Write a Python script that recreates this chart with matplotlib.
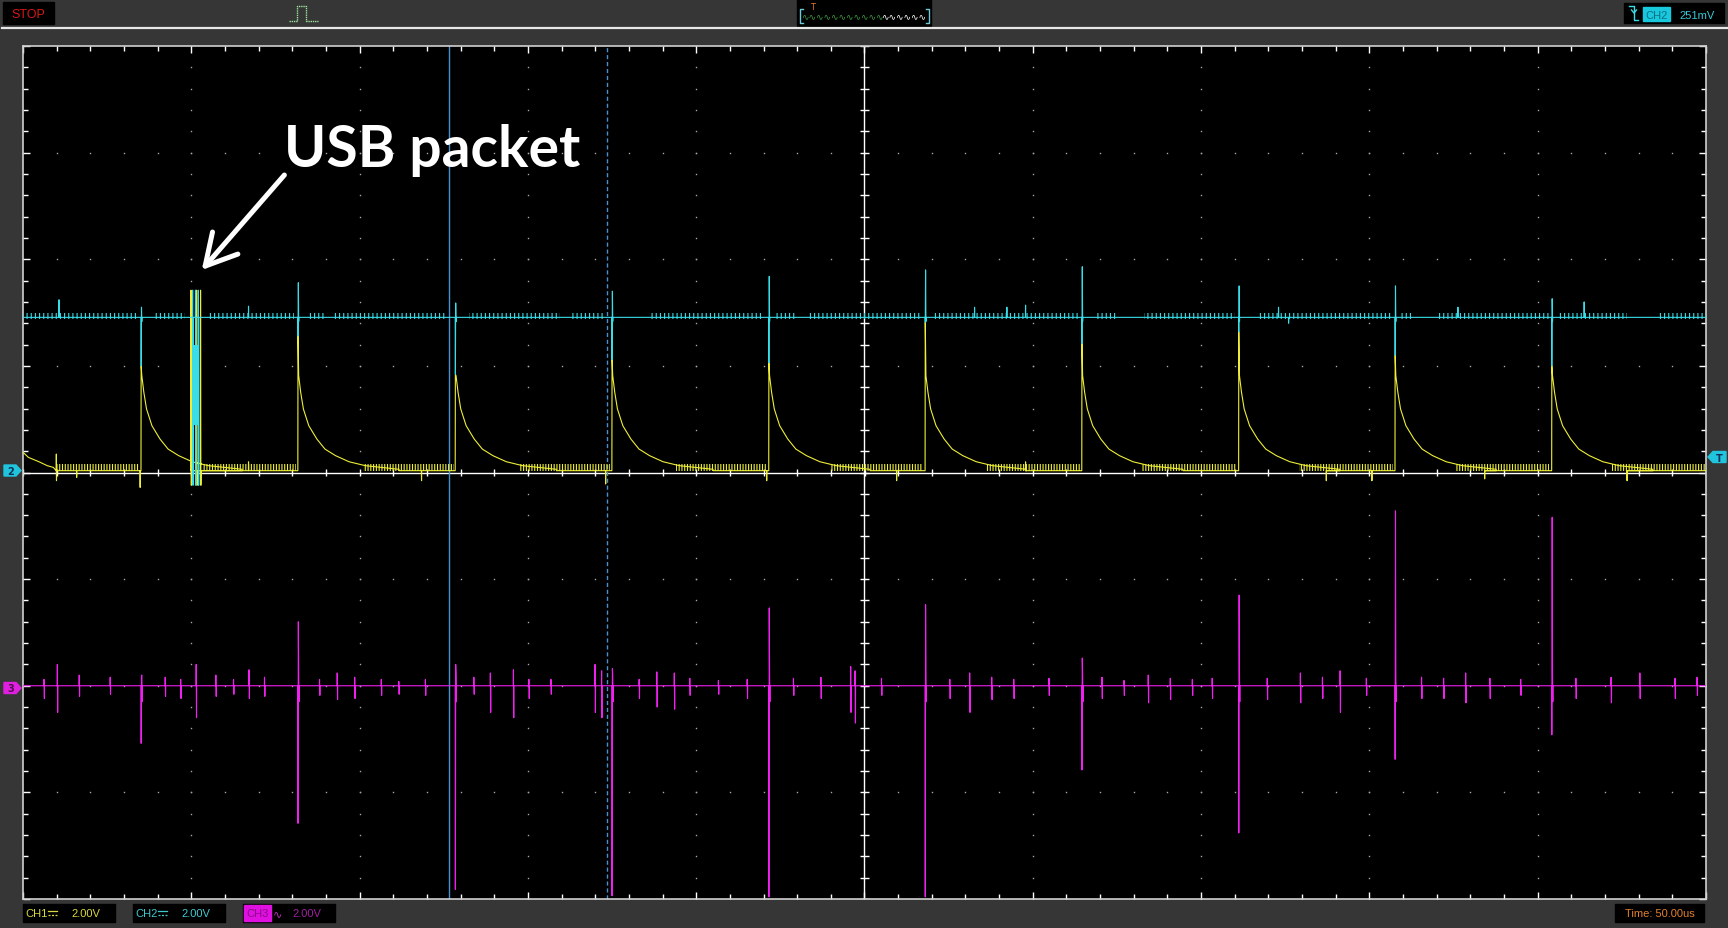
import numpy as np
import matplotlib

matplotlib.use("Agg")
import matplotlib.pyplot as plt
from matplotlib.patches import Polygon, Rectangle

W, H = 1728, 929
SCREEN = (23, 47, 1706, 900)  # left, top, right, bottom (pixels)

# All trace values are in scope divisions from the screen centre
# (10 x 8 divisions, 50 us/div, 2 V/div).
PULSE_X = [-4.298, -3.366, -2.431, -1.500, -0.568, 0.361, 1.292, 2.224, 3.153, 4.084]

# CH1 (yellow)
CH1_BASE = 0.017
CH1_TOP = [1.00, 1.28, 0.92, 1.06, 1.03, 1.41, 1.21, 1.32, 1.10, 1.00]
DECAY_DX = [0.004, 0.016, 0.032, 0.064, 0.112, 0.160, 0.223, 0.303, 0.400, 0.510, 0.600]
DECAY_Y = [0.908, 0.752, 0.596, 0.439, 0.314, 0.220, 0.158, 0.101, 0.064, 0.045, 0.030]
CH1_LEAD_X = [-5.000, -4.968, -4.904, -4.856, -4.820]
CH1_LEAD_Y = [0.190, 0.142, 0.100, 0.064, 0.048]
CH1_GLITCH_X = [-4.802, -4.801, -4.681, -4.304, -3.660, -2.632, -1.538, -0.581,
                0.191, 0.957, 2.744, 3.015, 3.685, 4.531]
CH1_GLITCH_Y = [0.173, -0.077, -0.046, -0.140, 0.100, -0.077, -0.108, -0.077,
                -0.077, 0.100, -0.077, -0.077, -0.060, -0.077]
CH1_FUZZ_START = [-4.81, -3.93, -2.98, -2.05, -1.12, -0.20, 0.72, 1.65, 2.58, 3.51, 4.44]
CH1_FUZZ_END = [-4.31, -3.38, -2.44, -1.51, -0.58, 0.35, 1.28, 2.21, 3.14, 4.07, 5.00]

# CH2 (cyan)
CH2_BASE = 1.455
CH2_DIP = [1.00, 1.28, 0.92, 1.06, 1.03, 1.41, 1.21, 1.32, 1.10, 1.00]
CH2_SPIKE = [1.55, 1.78, 1.59, 1.70, 1.84, 1.90, 1.93, 1.75, 1.75, 1.63]
CH2_GLITCH_X = [-4.786, -3.660, 0.654, 0.846, 0.957, 2.460, 2.520, 3.526, 4.276]
CH2_GLITCH_Y = [1.62, 1.56, 1.55, 1.55, 1.57, 1.55, 1.40, 1.55, 1.60]
CH2_FUZZ_START = [-5.00, -4.23, -3.90, -3.31, -3.15, -2.35, -1.75, -1.27, -0.53,
                  -0.34, 0.41, 1.37, 1.66, 2.33, 3.19, 3.41, 4.12, 4.72]
CH2_FUZZ_END = [-4.31, -4.04, -3.39, -3.21, -2.48, -1.81, -1.55, -0.60, -0.41,
                0.34, 1.27, 1.50, 2.20, 3.13, 3.25, 4.07, 4.53, 5.00]

# USB packet burst on CH1/CH2
CH1_PACKET_X = [-4.002, -3.968, -3.945]
CH2_PACKET_X = [-3.992, -3.975, -3.958]
PACKET_HI, PACKET_LO = 1.71, -0.12
PACKET_CORE = (-3.990, -3.957, 0.45, 1.20)

# CH3 (magenta)
CH3_BASE = -2.0
CH3_DOWN = [-2.54, -3.29, -3.91, -3.97, -3.98, -3.98, -2.79, -3.38, -2.69, -2.46]
CH3_UP = [-1.91, -1.40, -1.80, -1.84, -1.27, -1.24, -1.74, -1.15, -0.36, -0.42]
CH3_GLITCH_X = [-4.875, -4.796, -4.666, -4.482, -4.155, -4.063, -3.971, -3.854, -3.749,
                -3.657, -3.565, -3.238, -3.133, -3.029, -2.871, -2.767, -2.609, -2.321,
                -2.223, -2.086, -1.994, -1.863, -1.601, -1.562, -1.339, -1.234, -1.130,
                -1.038, -0.868, -0.697, -0.422, -0.259, -0.082, -0.056, 0.101, 0.507,
                0.625, 0.756, 0.887, 1.096, 1.411, 1.542, 1.686, 1.817, 1.948, 2.066,
                2.393, 2.590, 2.721, 2.826, 2.982, 3.310, 3.441, 3.572, 3.716, 3.899,
                4.227, 4.436, 4.607, 4.816, 4.947]
CH3_GLITCH_UP = [-1.94, -1.80, -1.90, -1.92, -1.92, -1.94, -1.80, -1.90, -1.94,
                 -1.85, -1.92, -1.94, -1.88, -1.92, -1.94, -1.96, -1.94, -1.92,
                 -1.88, -1.85, -1.94, -1.94, -1.80, -1.86, -1.94, -1.87, -1.88,
                 -1.93, -1.95, -1.94, -1.93, -1.92, -1.82, -1.86, -1.93, -1.94,
                 -1.88, -1.92, -1.94, -1.93, -1.92, -1.95, -1.90, -1.93, -1.94,
                 -1.93, -1.93, -1.88, -1.92, -1.86, -1.93, -1.92, -1.93, -1.88,
                 -1.93, -1.94, -1.93, -1.92, -1.88, -1.93, -1.92]
CH3_GLITCH_DOWN = [-2.12, -2.25, -2.10, -2.08, -2.10, -2.12, -2.30, -2.10, -2.08,
                   -2.12, -2.10, -2.09, -2.13, -2.12, -2.09, -2.08, -2.09, -2.08,
                   -2.25, -2.30, -2.12, -2.08, -2.25, -2.30, -2.12, -2.20, -2.22,
                   -2.09, -2.08, -2.12, -2.09, -2.12, -2.25, -2.35, -2.09, -2.12,
                   -2.25, -2.13, -2.12, -2.09, -2.12, -2.09, -2.16, -2.13, -2.09,
                   -2.12, -2.13, -2.16, -2.12, -2.25, -2.09, -2.12, -2.12, -2.16,
                   -2.12, -2.09, -2.12, -2.16, -2.12, -2.12, -2.09]

CURSOR_SOLID_X = -2.467
CURSOR_DASHED_X = -1.532

YELLOW, CYAN, MAGENTA = "#eeee38", "#38dde8", "#f020f0"
EPS = 0.002


def trace(base, events, start=None):
    """Line along `base`; each event is a list of (x, y) points, after which it returns to base."""
    pts = list(start) if start else [(-5.0, base)]
    for seq in sorted(events, key=lambda s: s[0][0]):
        pts.append((seq[0][0] - EPS / 2, base))
        pts += seq
        pts.append((seq[-1][0] + EPS / 2, base))
    pts.append((5.0, base))
    xs, ys = zip(*pts)
    return xs, ys


def spike(x, levels):
    return [(x + k * EPS, y) for k, y in enumerate(levels)]


def ch1_trace():
    events = [spike(x, [y]) for x, y in zip(CH1_GLITCH_X, CH1_GLITCH_Y)]
    events += [spike(x, [PACKET_HI, PACKET_LO]) for x in CH1_PACKET_X]
    for px, top in zip(PULSE_X, CH1_TOP):
        events.append([(px, top)] + [(px + dx, y) for dx, y in zip(DECAY_DX, DECAY_Y)])
    return trace(CH1_BASE, events, start=zip(CH1_LEAD_X, CH1_LEAD_Y))


def ch2_trace():
    events = [spike(x, [y]) for x, y in zip(CH2_GLITCH_X, CH2_GLITCH_Y)]
    events += [spike(px, [d, s, CH2_BASE - 0.04])
               for px, d, s in zip(PULSE_X, CH2_DIP, CH2_SPIKE)]
    events += [spike(x, [PACKET_HI, PACKET_LO]) for x in CH2_PACKET_X]
    return trace(CH2_BASE, events)


def ch3_trace():
    events = [spike(x, [u, d]) for x, u, d in zip(CH3_GLITCH_X, CH3_GLITCH_UP, CH3_GLITCH_DOWN)]
    events += [spike(px, [d, u, CH3_BASE + 0.1, CH3_BASE - 0.15])
               for px, d, u in zip(PULSE_X, CH3_DOWN, CH3_UP)]
    return trace(CH3_BASE, events)


plt.rcParams["hatch.linewidth"] = 0.8
fig = plt.figure(figsize=(W / 100, H / 100), dpi=100, facecolor="#363636")

# ---- window chrome, in pixel coordinates -------------------------------------------
frame = fig.add_axes([0, 0, 1, 1])
frame.set_xlim(0, W)
frame.set_ylim(H, 0)
frame.axis("off")
frame.plot([2, W], [29, 29], color="#e8e8e8", lw=1.6)
frame.add_patch(Rectangle((3, 3), 51, 22, color="black"))
frame.text(28.5, 14.5, "STOP", color="#d81818", fontsize=9, ha="center", va="center",
           family="Liberation Sans")
frame.plot([289, 297, 297, 306, 306, 318], [22, 22, 7, 7, 22, 22], color="#9be39b",
           lw=1, ls=(0, (1, 0.6)))
frame.add_patch(Rectangle((797, 0), 134, 27, color="black"))
frame.plot([803, 800, 800, 803], [10, 10, 24, 24], color="#6fc8d8", lw=1)
frame.plot([926, 929, 929, 926], [10, 10, 24, 24], color="#6fc8d8", lw=1)
frame.text(801, 17, "∿" * 11, color="#3f9a3f", fontsize=6.5, va="center", family="DejaVu Sans")
frame.text(881, 17, "∿" * 6, color="white", fontsize=6.5, va="center", family="DejaVu Sans")
frame.text(812.7, 7, "T", color="#e07030", fontsize=6, ha="center", va="center")

frame.add_patch(Rectangle((1624, 4), 100, 20, color="black"))
frame.plot([1629, 1634, 1634, 1638], [7, 7, 21, 21], color="#38dde8", lw=1)
frame.plot([1631.5, 1634, 1636.5], [11, 14, 11], color="#38dde8", lw=1)
frame.add_patch(Rectangle((1643, 8), 27, 14, color="#18c8dc"))
frame.text(1656.5, 15.5, "CH2", color="#0a6f85", fontsize=8, ha="center", va="center",
           family="Liberation Sans")
frame.text(1679, 15.5, "251mV", color="#38c8d8", fontsize=8, va="center", family="Liberation Sans")

# bottom status boxes; the DC coupling sign (⎓) is not in any installed font, so drawn
for x0, label, color in [(23, "CH1", "#d8d840"), (133, "CH2", "#40c8d0")]:
    frame.add_patch(Rectangle((x0, 905), 92, 18, color="black"))
    frame.text(x0 + 2, 914.5, label, color=color, fontsize=8, va="center", family="Liberation Sans")
    frame.plot([x0 + 25, x0 + 34], [912, 912], color=color, lw=0.9)
    frame.plot([x0 + 25, x0 + 34], [915.5, 915.5], color=color, lw=0.9, ls=(0, (1.6, 1.2)))
    frame.text(x0 + 48, 914.5, "2.00V", color=color, fontsize=8, va="center",
               family="Liberation Sans")
frame.add_patch(Rectangle((243, 905), 92, 18, color="black"))
frame.add_patch(Rectangle((244, 906), 27, 16, color="#e010e0"))
frame.text(257.5, 914.5, "CH3", color="#8a0a8a", fontsize=8, ha="center", va="center",
           family="Liberation Sans")
frame.text(273, 914.5, "∿", color="#c030c0", fontsize=8, va="center", family="DejaVu Sans")
frame.text(292, 914.5, "2.00V", color="#a020a0", fontsize=8, va="center", family="Liberation Sans")
frame.add_patch(Rectangle((1615, 905), 89, 18, color="black"))
frame.text(1659.5, 914.5, "Time: 50.00us", color="#e08030", fontsize=8, ha="center",
           va="center", family="Liberation Sans")

# channel / trigger markers
tag_y2, tag_y3, tag_t = 471.5, 689, 458
frame.add_patch(Polygon([(4, tag_y2 - 5.5), (16, tag_y2 - 5.5), (21, tag_y2), (16, tag_y2 + 5.5),
                         (4, tag_y2 + 5.5)], color="#20c4dc"))
frame.text(11, tag_y2 + 0.5, "2", color="#10305a", fontsize=7, ha="center", va="center",
           fontweight="bold")
frame.add_patch(Polygon([(4, tag_y3 - 5.5), (16, tag_y3 - 5.5), (21, tag_y3), (16, tag_y3 + 5.5),
                         (4, tag_y3 + 5.5)], color="#e020e0"))
frame.text(11, tag_y3 + 0.5, "3", color="#501050", fontsize=7, ha="center", va="center",
           fontweight="bold")
frame.add_patch(Polygon([(1708, tag_t), (1713, tag_t - 5.5), (1726, tag_t - 5.5),
                         (1726, tag_t + 5.5), (1713, tag_t + 5.5)], color="#20c4dc"))
frame.text(1719, tag_t + 0.5, "T", color="#10305a", fontsize=7, ha="center", va="center",
           fontweight="bold")

# ---- scope screen ------------------------------------------------------------------
left, top, right, bottom = SCREEN
ax = fig.add_axes([left / W, 1 - bottom / H, (right - left) / W, (bottom - top) / H])
ax.set_zorder(1)
ax.set_facecolor("black")
ax.set_xlim(-5, 5)
ax.set_ylim(-4, 4)
for spine in ax.spines.values():
    spine.set_color("#d0d0d0")
    spine.set_linewidth(1.2)
ax.set_xticks(np.arange(-5, 5.01, 1))
ax.set_xticks(np.arange(-5, 5.01, 0.2), minor=True)
ax.set_yticks(np.arange(-4, 4.01, 1))
ax.set_yticks(np.arange(-4, 4.01, 0.2), minor=True)
ax.tick_params(which="both", direction="in", top=True, right=True, colors="white",
               labelbottom=False, labelleft=False, width=1)
ax.tick_params(which="major", length=5)
ax.tick_params(which="minor", length=3.3)

# graticule dots
fine_x = np.arange(-5, 5.01, 0.2)
fine_y = np.arange(-4, 4.01, 0.2)
for gx in range(-4, 5):
    if gx:
        ax.plot(np.full_like(fine_y, gx), fine_y, ls="none", marker="s", ms=1.0,
                color="#a8a8a8", mew=0, zorder=1)
for gy in range(-3, 4):
    if gy:
        ax.plot(fine_x, np.full_like(fine_x, gy), ls="none", marker="s", ms=1.0,
                color="#a8a8a8", mew=0, zorder=1)
ax.axhline(0, color="white", lw=1, zorder=1)
ax.axvline(0, color="white", lw=1, zorder=1)
ax.vlines(fine_x, -0.0375, 0.0375, color="white", lw=1, zorder=1)
ax.hlines(fine_y, -0.024, 0.024, color="white", lw=1, zorder=1)

ax.axvline(CURSOR_SOLID_X, color="#4a8fd0", lw=1, zorder=2)
ax.axvline(CURSOR_DASHED_X, color="#4a8fd0", lw=1, ls=(0, (3, 2)), zorder=2)

# baseline fuzz
for a, b in zip(CH1_FUZZ_START, CH1_FUZZ_END):
    ax.fill_between([a, b], CH1_BASE, CH1_BASE + 0.06, facecolor="none", edgecolor=YELLOW,
                    hatch="||||||", linewidth=0, zorder=3)
for a, b in zip(CH2_FUZZ_START, CH2_FUZZ_END):
    ax.fill_between([a, b], CH2_BASE - 0.02, CH2_BASE + 0.045, facecolor="none",
                    edgecolor=CYAN, hatch="||||", linewidth=0, zorder=3)

x1, y1 = ch1_trace()
ax.plot(x1, y1, color=YELLOW, lw=0.8, zorder=4)
x2, y2 = ch2_trace()
ax.plot(x2, y2, color=CYAN, lw=0.8, zorder=5)
ax.fill_between(PACKET_CORE[:2], PACKET_CORE[2], PACKET_CORE[3], color=CYAN, lw=0, zorder=5)
x3, y3 = ch3_trace()
ax.plot(x3, y3, color=MAGENTA, lw=0.8, zorder=4)

ax.text(-3.447, 2.87, "USB packet", color="white", fontsize=41, fontweight="bold",
        family="Lato", va="baseline", zorder=6)
ax.annotate("", xy=(-3.938, 1.899), xytext=(-3.447, 2.79),
            arrowprops=dict(arrowstyle="->,head_length=1.0,head_width=0.55", color="white",
                            lw=3.6, shrinkA=0, shrinkB=0, mutation_scale=22), zorder=6)

fig.savefig("out.png", dpi=100, facecolor=fig.get_facecolor())
